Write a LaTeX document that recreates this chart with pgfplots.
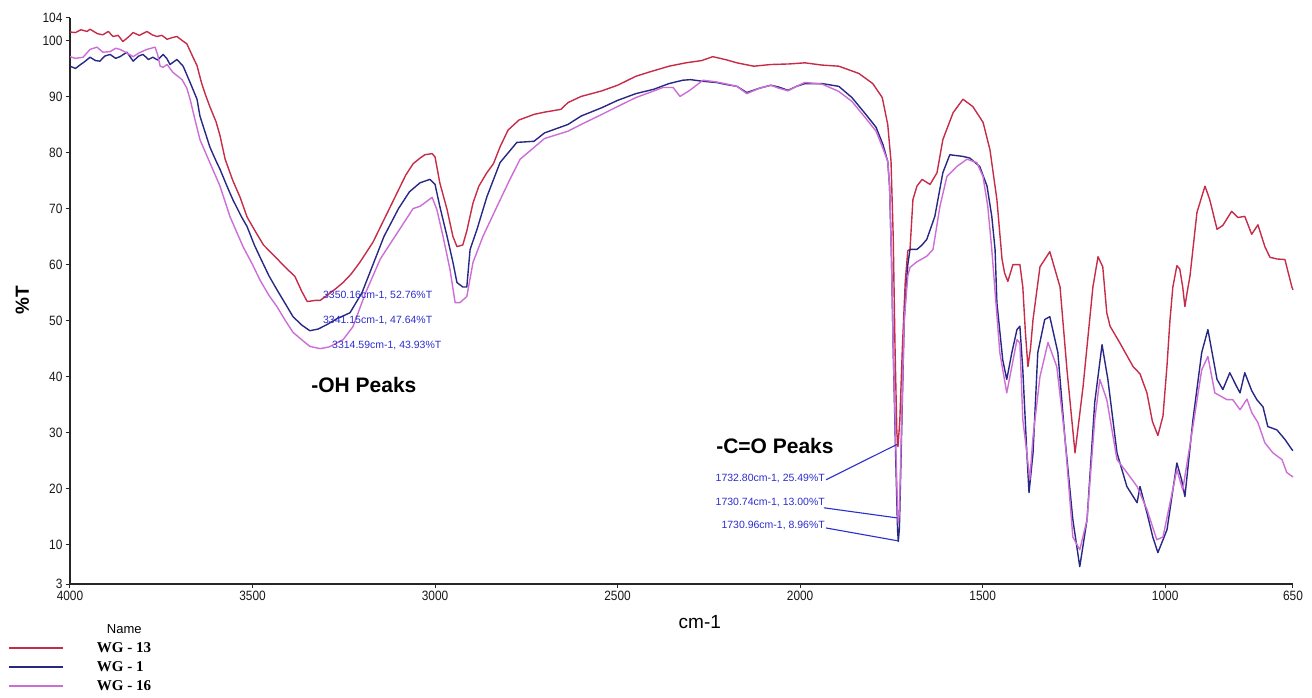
\documentclass[border=0pt]{standalone}
\usepackage{fontspec}
\setmainfont{Liberation Sans}
\newfontfamily\serifb{Liberation Serif}
\newfontfamily\narrowf[FakeStretch=0.88]{Liberation Sans}
\usepackage{pgfplots}
\pgfplotsset{compat=1.18}
\definecolor{wgred}{RGB}{198,44,74}
\definecolor{wgnavy}{RGB}{40,40,132}
\definecolor{wgpink}{RGB}{204,110,214}
\definecolor{annblue}{RGB}{45,45,205}
\begin{document}
\begin{tikzpicture}
\useasboundingbox (-70pt,-113pt) rectangle (1242pt,584pt);
\begin{axis}[
  at={(0pt,0pt)}, anchor=south west,
  scale only axis, width=1223pt, height=566pt,
  x dir=reverse, xmin=650, xmax=4000, ymin=3, ymax=104,
  axis x line*=bottom, axis y line*=left,
  axis line style={line width=1.6pt, black!85, -},
  xtick={4000,3500,3000,2500,2000,1500,1000,650},
  ytick={3,10,20,30,40,50,60,70,80,90,100,104},
  tick align=outside, major tick length=4pt,
  tick style={line width=1pt, black!85},
  /pgf/number format/assume math mode=true,
  /pgf/number format/1000 sep={},
  tick label style={font=\narrowf\fontsize{13.5}{13.5}\selectfont, text=black!90},
  xlabel={cm-1},
  xlabel style={at={(axis description cs:0.515,-0.067)}, anchor=center, font=\fontsize{19}{19}\selectfont},
  ylabel={\%T},
  ylabel style={at={(axis description cs:-0.039,0.502)}, anchor=center, font=\bfseries\fontsize{19}{19}\selectfont},
  legend cell align=left,
  legend image code/.code={\draw[#1, line width=1.8pt] (0pt,0pt) -- (54pt,0pt);},
  legend style={at={(-0.0507,-0.0654)}, anchor=north west, draw=none, fill=none,
    inner sep=0pt, column sep=32pt, row sep=3pt,
    nodes={inner sep=1pt, text height=11pt, text depth=3pt},
    font=\serifb\bfseries\fontsize{15}{15}\selectfont},
  every axis plot/.append style={line width=1.4pt, line join=round},
  clip=false,
]
\addlegendimage{empty legend}
\addlegendentry{\hspace*{10pt}{\rmfamily\mdseries\fontsize{13}{13}\selectfont Name}}

\addplot[wgred] coordinates {
(4000,101.5) (3985,101.4) (3970,101.9) (3953,101.6) (3945,102.0) (3925,101.2) (3910,101.0) (3895,101.6) (3882,100.7) (3868,100.9) (3855,99.8) (3840,100.6) (3827,101.4) (3810,100.9) (3789,101.6) (3775,101.0) (3762,100.7) (3748,100.9) (3734,100.2) (3720,100.5) (3707,100.7) (3693,100.0) (3680,99.4) (3663,97.0) (3652,95.5) (3640,92.5) (3630,90.5) (3617,88.2) (3600,85.5) (3589,83.0) (3575,78.8) (3554,75.0) (3534,72.0) (3515,68.5) (3493,66.0) (3470,63.5) (3438,61.4) (3410,59.5) (3384,57.9) (3365,55.2) (3350,53.4) (3329,53.6) (3315,53.6) (3296,54.5) (3270,55.8) (3252,56.8) (3230,58.3) (3206,60.4) (3170,64.0) (3140,68.0) (3110,72.0) (3080,76.0) (3060,78.0) (3041,79.0) (3028,79.6) (3008,79.8) (3000,79.2) (2987,74.6) (2967,69.8) (2951,65.0) (2940,63.2) (2924,63.5) (2913,66.0) (2896,71.0) (2880,74.0) (2858,76.4) (2840,78.0) (2822,81.0) (2800,84.0) (2770,85.8) (2729,86.8) (2700,87.2) (2655,87.7) (2636,88.9) (2600,90.0) (2543,91.0) (2500,92.0) (2450,93.6) (2411,94.4) (2359,95.4) (2313,96.0) (2270,96.4) (2239,97.1) (2200,96.5) (2173,96.0) (2127,95.4) (2080,95.7) (2030,95.8) (1987,96.0) (1940,95.6) (1894,95.4) (1860,94.6) (1839,94.1) (1801,92.3) (1775,89.8) (1760,85.0) (1751,78.4) (1745,65.0) (1740,45.0) (1735,30.0) (1732,27.5) (1727,32.0) (1720,45.0) (1712,57.0) (1705,62.5) (1699,62.7) (1691,71.6) (1680,74.0) (1666,75.2) (1644,74.3) (1625,76.4) (1609,82.3) (1581,87.1) (1554,89.5) (1527,88.2) (1499,85.4) (1480,80.5) (1461,71.6) (1447,61.0) (1440,58.5) (1431,57.0) (1417,60.0) (1398,60.0) (1390,56.0) (1383,48.0) (1376,41.8) (1369,45.0) (1362,50.2) (1343,59.6) (1316,62.3) (1288,56.0) (1269,41.2) (1247,26.4) (1225,38.2) (1198,56.0) (1184,61.4) (1171,59.6) (1160,51.4) (1151,49.0) (1124,46.0) (1088,41.8) (1069,40.5) (1050,37.1) (1035,32.0) (1020,29.5) (1006,33.0) (995,42.0) (987,50.0) (979,56.0) (968,59.8) (960,59.2) (952,56.0) (946,52.5) (940,55.0) (932,58.0) (913,69.3) (891,74.0) (878,71.6) (858,66.3) (842,67.0) (818,69.5) (801,68.4) (782,68.6) (763,65.4) (746,67.1) (727,63.2) (713,61.3) (694,61.0) (672,60.9) (653,56.0) (650,55.5)
};
\addlegendentry{WG - 13}

\addplot[wgnavy] coordinates {
(4000,95.4) (3985,95.0) (3973,95.6) (3960,96.2) (3945,97.0) (3930,96.4) (3918,96.3) (3905,97.2) (3890,97.5) (3875,96.8) (3863,97.1) (3844,97.9) (3827,96.3) (3812,97.2) (3800,97.5) (3785,96.6) (3773,97.0) (3760,96.5) (3745,97.5) (3735,96.8) (3726,95.7) (3707,96.6) (3690,95.4) (3671,92.5) (3652,89.5) (3644,86.5) (3617,81.0) (3600,78.5) (3589,77.0) (3570,74.0) (3554,71.6) (3530,68.5) (3515,66.8) (3495,63.5) (3480,61.4) (3455,58.0) (3433,55.5) (3410,53.0) (3389,50.7) (3365,49.2) (3343,48.2) (3320,48.5) (3296,49.3) (3270,50.3) (3233,51.4) (3200,55.0) (3170,60.0) (3140,65.0) (3100,70.0) (3070,73.0) (3041,74.6) (3014,75.2) (3000,74.3) (2987,70.4) (2967,65.0) (2951,60.4) (2940,56.8) (2924,56.0) (2913,56.0) (2904,62.7) (2885,66.3) (2858,72.1) (2822,78.2) (2776,81.8) (2729,82.0) (2700,83.5) (2636,85.0) (2600,86.5) (2543,88.0) (2500,89.3) (2450,90.5) (2400,91.3) (2359,92.3) (2321,92.9) (2300,93.0) (2266,92.7) (2230,92.5) (2200,92.1) (2173,91.8) (2146,90.7) (2110,91.5) (2080,92.0) (2060,91.7) (2033,91.1) (2010,91.8) (1987,92.3) (1940,92.3) (1894,91.8) (1858,89.8) (1820,86.8) (1792,84.5) (1773,81.4) (1760,78.4) (1755,74.0) (1750,62.0) (1745,45.0) (1738,25.0) (1733,12.5) (1731,10.6) (1728,13.0) (1722,30.0) (1715,50.0) (1705,60.0) (1699,62.7) (1680,62.7) (1666,63.5) (1653,64.5) (1631,68.6) (1609,76.4) (1590,79.6) (1554,79.3) (1535,79.0) (1508,77.5) (1488,74.0) (1475,68.6) (1466,62.7) (1461,53.2) (1445,43.0) (1434,39.5) (1420,44.3) (1406,48.4) (1398,49.0) (1390,41.2) (1379,26.4) (1373,19.3) (1362,26.4) (1349,44.3) (1330,50.2) (1316,50.7) (1294,44.3) (1275,29.3) (1253,14.5) (1234,6.1) (1214,14.5) (1193,35.4) (1173,45.7) (1157,39.5) (1132,26.4) (1105,20.4) (1077,17.5) (1069,20.4) (1050,15.7) (1034,11.4) (1020,8.6) (995,12.7) (968,24.6) (955,21.6) (946,18.6) (924,32.3) (900,44.3) (883,48.4) (858,39.5) (842,37.7) (823,40.7) (804,38.2) (795,37.1) (782,40.7) (763,37.5) (749,35.9) (732,34.6) (719,31.1) (694,30.5) (672,28.8) (653,27.0) (650,26.8)
};
\addlegendentry{WG - 1}

\addplot[wgpink] coordinates {
(4000,97.1) (3985,96.8) (3964,97.0) (3945,98.4) (3926,98.8) (3910,97.9) (3890,98.0) (3875,98.6) (3863,98.4) (3845,97.8) (3827,97.1) (3810,97.8) (3789,98.4) (3767,98.8) (3760,97.5) (3753,95.4) (3745,95.2) (3734,95.7) (3718,94.3) (3693,93.0) (3680,91.5) (3671,89.5) (3660,86.5) (3644,82.3) (3617,78.2) (3589,74.0) (3562,68.6) (3526,63.2) (3500,60.0) (3480,57.3) (3455,54.5) (3433,52.5) (3410,50.0) (3389,47.9) (3360,46.3) (3343,45.4) (3315,45.0) (3290,45.3) (3252,46.6) (3225,48.9) (3190,55.0) (3150,61.0) (3100,66.0) (3060,70.0) (3041,70.4) (3008,72.0) (2995,69.8) (2978,65.0) (2959,59.1) (2945,53.2) (2932,53.2) (2913,54.3) (2896,60.4) (2869,65.0) (2830,70.4) (2795,75.2) (2767,78.8) (2729,80.9) (2700,82.5) (2636,83.8) (2600,85.0) (2543,86.8) (2500,88.2) (2450,89.8) (2400,91.0) (2376,91.6) (2348,91.6) (2329,90.0) (2302,91.1) (2266,92.9) (2230,92.6) (2200,92.2) (2173,91.8) (2146,90.5) (2110,91.5) (2080,92.0) (2060,91.5) (2033,91.0) (2010,91.8) (1987,92.5) (1940,92.2) (1894,90.9) (1858,89.1) (1820,86.1) (1792,83.8) (1773,80.7) (1760,78.4) (1755,74.0) (1750,62.0) (1745,45.0) (1738,28.0) (1733,16.0) (1731,13.8) (1728,16.0) (1722,32.0) (1715,50.0) (1705,58.0) (1699,59.5) (1680,60.5) (1653,61.5) (1636,62.7) (1617,70.4) (1598,75.7) (1571,77.5) (1543,78.8) (1516,78.2) (1499,75.7) (1486,70.4) (1475,62.7) (1453,44.3) (1434,37.1) (1420,41.8) (1406,46.6) (1398,46.0) (1390,32.3) (1379,26.4) (1371,21.6) (1362,29.3) (1343,40.0) (1321,46.1) (1297,41.8) (1275,29.3) (1253,11.4) (1234,9.1) (1214,14.5) (1193,32.3) (1179,39.5) (1160,35.9) (1132,25.2) (1105,22.9) (1077,20.4) (1050,16.3) (1023,10.9) (1006,11.4) (968,23.4) (952,19.8) (924,31.1) (900,41.2) (883,43.6) (864,37.1) (831,35.9) (815,35.9) (795,34.1) (776,36.0) (763,33.6) (746,31.8) (727,28.2) (705,26.4) (680,25.2) (667,22.9) (650,22.1)
};
\addlegendentry{WG - 16}

% annotations
\begin{scope}[every node/.style={font=\fontsize{10.5}{10.5}\selectfont, text=annblue, inner sep=1pt}]
\node[anchor=west] at (axis cs:3310,54.5) {3350.16cm-1, 52.76\%T};
\node[anchor=west] at (axis cs:3310,50.0) {3341.15cm-1, 47.64\%T};
\node[anchor=west] at (axis cs:3285,45.5) {3314.59cm-1, 43.93\%T};
\node[anchor=east] at (axis cs:1929,21.8) {1732.80cm-1, 25.49\%T};
\node[anchor=east] at (axis cs:1929,17.5) {1730.74cm-1, 13.00\%T};
\node[anchor=east] at (axis cs:1929,13.4) {1730.96cm-1, 8.96\%T};
\end{scope}
\draw[annblue, line width=1.1pt] (axis cs:1929,21.6) -- (axis cs:1735,27.9);
\draw[annblue, line width=1.1pt] (axis cs:1935,16.6) -- (axis cs:1735,14.8);
\draw[annblue, line width=1.1pt] (axis cs:1929,13.0) -- (axis cs:1732,10.7);
\node[font=\bfseries\fontsize{21}{21}\selectfont] at (axis cs:3195,38.6) {-OH Peaks};
\node[font=\bfseries\fontsize{21}{21}\selectfont] at (axis cs:2069,27.7) {-C=O Peaks};
\end{axis}
\end{tikzpicture}
\end{document}
